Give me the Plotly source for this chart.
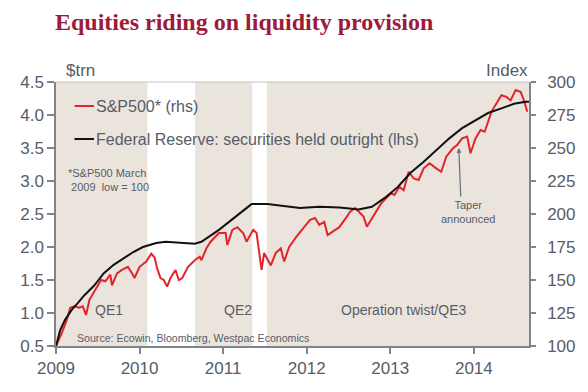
import plotly.graph_objects as go

# ---------------- data ----------------
fed_year = [2009.00, 2009.01, 2009.05, 2009.11, 2009.19, 2009.26, 2009.34, 2009.46,
            2009.57, 2009.69, 2009.81, 2009.92, 2010.04, 2010.20, 2010.31, 2010.51,
            2010.66, 2010.74, 2010.85, 2010.95, 2011.15, 2011.34, 2011.53, 2011.77,
            2011.92, 2012.15, 2012.39, 2012.54, 2012.62, 2012.78, 2012.93, 2013.09,
            2013.24, 2013.40, 2013.55, 2013.71, 2013.86, 2014.02, 2014.17, 2014.33,
            2014.48, 2014.62, 2014.66]
fed_trn = [0.50, 0.55, 0.74, 0.90, 1.05, 1.15, 1.27, 1.42,
           1.60, 1.73, 1.83, 1.92, 2.00, 2.06, 2.08, 2.06,
           2.05, 2.08, 2.17, 2.26, 2.46, 2.65, 2.65, 2.61,
           2.59, 2.61, 2.60, 2.58, 2.57, 2.61, 2.74, 2.91,
           3.12, 3.29, 3.47, 3.65, 3.80, 3.92, 4.03, 4.10,
           4.17, 4.20, 4.20]

spx_year = [2009.00, 2009.07, 2009.13, 2009.17, 2009.22, 2009.28, 2009.32, 2009.36,
            2009.40, 2009.46, 2009.54, 2009.59, 2009.65, 2009.67, 2009.73, 2009.79,
            2009.86, 2009.90, 2009.94, 2010.00, 2010.08, 2010.14, 2010.18, 2010.21,
            2010.25, 2010.29, 2010.33, 2010.37, 2010.43, 2010.47, 2010.51, 2010.58,
            2010.66, 2010.72, 2010.74, 2010.80, 2010.85, 2010.95, 2011.03, 2011.05,
            2011.11, 2011.17, 2011.24, 2011.28, 2011.36, 2011.40, 2011.46, 2011.49,
            2011.57, 2011.63, 2011.69, 2011.73, 2011.79, 2011.88, 2011.96, 2012.04,
            2012.10, 2012.15, 2012.21, 2012.25, 2012.31, 2012.39, 2012.47, 2012.52,
            2012.58, 2012.62, 2012.68, 2012.72, 2012.78, 2012.84, 2012.89, 2012.95,
            2013.01, 2013.05, 2013.11, 2013.16, 2013.22, 2013.28, 2013.34, 2013.40,
            2013.47, 2013.55, 2013.61, 2013.67, 2013.75, 2013.80, 2013.86, 2013.92,
            2013.96, 2014.02, 2014.08, 2014.13, 2014.17, 2014.21, 2014.27, 2014.33,
            2014.39, 2014.44, 2014.50, 2014.56, 2014.60, 2014.64]
spx_index = [100.0, 110.0, 120.0, 129.0, 130.0, 129.0, 130.0, 123.5,
             135.0, 141.0, 150.0, 149.0, 154.0, 146.0, 155.0, 157.6,
             160.0, 156.0, 151.5, 160.0, 164.0, 170.0, 167.0, 159.0,
             151.5, 150.0, 145.0, 151.5, 157.6, 150.0, 151.5, 160.0,
             165.0, 167.6, 165.0, 174.0, 179.0, 185.6, 185.6, 176.5,
             188.0, 190.0, 185.6, 179.0, 188.0, 185.6, 157.6, 170.5,
             161.0, 170.5, 174.0, 164.0, 175.0, 183.0, 189.0, 195.5,
             197.0, 191.7, 194.0, 184.0, 186.6, 190.0, 197.0, 201.7,
             204.5, 201.7, 198.0, 190.4, 197.0, 203.0, 208.0, 212.0,
             215.7, 214.4, 220.7, 218.0, 232.0, 227.0, 225.8, 234.6,
             238.4, 234.6, 232.0, 243.4, 249.8, 252.3, 257.3, 258.6,
             246.0, 257.3, 263.6, 262.3, 269.9, 277.4, 283.7, 290.0,
             288.7, 286.0, 293.9, 292.6, 286.0, 277.4]

# periods of asset purchases (shaded)
qe_start = [2009.00, 2010.665, 2011.523]
qe_end = [2010.094, 2011.348, 2014.66]
qe_labels = ["QE1", "QE2", "Operation twist/QE3"]
qe_label_x = [2009.64, 2011.18, 2013.16]

year_ticks = [2009, 2010, 2011, 2012, 2013, 2014]
lhs_ticks = [0.5, 1.0, 1.5, 2.0, 2.5, 3.0, 3.5, 4.0, 4.5]
rhs_ticks = [100, 125, 150, 175, 200, 225, 250, 275, 300]

taper_year = 2013.82
taper_trn = 3.50

# ---------------- styling ----------------
SANS = "Liberation Sans, Arial, sans-serif"
TXT = "#585c68"
AX = "#80858c"
RED = "#e3242b"
BEIGE = "#eae4dd"

OFF = 8  # browser default body margin
W, H = 588 - OFF, 392 - OFF
ML, MR, MT, MB = 49 - OFF, 53, 82 - OFF, 46
PW, PH = W - ML - MR, H - MT - MB


def px(xp):
    # page pixel x -> paper fraction
    return (xp - OFF - ML) / PW


def py(yp):
    # page pixel y -> paper fraction
    return (H - MB - (yp - OFF)) / PH


fig = go.Figure()
fig.add_trace(go.Scatter(x=spx_year, y=spx_index, mode="lines", yaxis="y",
                         line=dict(color=RED, width=2), name="S&P500* (rhs)",
                         showlegend=False))
fig.add_trace(go.Scatter(x=fed_year, y=fed_trn, mode="lines", yaxis="y2",
                         line=dict(color="#111111", width=2),
                         name="Federal Reserve: securities held outright (lhs)",
                         showlegend=False))

shapes = []
for s, e in zip(qe_start, qe_end):
    shapes.append(dict(type="rect", xref="x", yref="paper", x0=s, x1=e, y0=0, y1=1,
                       fillcolor=BEIGE, line=dict(width=0), layer="below"))
# top frame line
shapes.append(dict(type="line", xref="paper", yref="paper", x0=0, x1=1, y0=1, y1=1,
                   line=dict(color="#c4c4c4", width=1)))
# legend keys
shapes.append(dict(type="line", xref="paper", yref="paper", x0=px(68), x1=px(88),
                   y0=py(106), y1=py(106), line=dict(color=RED, width=2)))
shapes.append(dict(type="line", xref="paper", yref="paper", x0=px(68), x1=px(88),
                   y0=py(139), y1=py(139), line=dict(color="#111111", width=2)))

ann = []
ann.append(dict(text="<b>Equities riding on liquidity provision</b>", xref="paper", yref="paper",
                x=px(47), y=py(22), xanchor="left", yanchor="middle", showarrow=False,
                borderpad=0,
                font=dict(family="Liberation Serif, Times New Roman, serif", size=24, color="#9e1a3a")))
ann.append(dict(text="$trn", xref="paper", yref="paper", x=px(57), y=py(71),
                xanchor="left", yanchor="middle", showarrow=False,
                font=dict(family=SANS, size=17, color=TXT)))
ann.append(dict(text="Index", xref="paper", yref="paper", x=px(536), y=py(70),
                xanchor="right", yanchor="middle", showarrow=False,
                font=dict(family=SANS, size=17, color=TXT)))
ann.append(dict(text="S&P500* (rhs)", xref="paper", yref="paper", x=px(88), y=py(106),
                xanchor="left", yanchor="middle", showarrow=False,
                font=dict(family=SANS, size=16, color=TXT)))
ann.append(dict(text="Federal Reserve: securities held outright (lhs)", xref="paper", yref="paper",
                x=px(88), y=py(139), xanchor="left", yanchor="middle", showarrow=False,
                font=dict(family=SANS, size=16, color=TXT)))
ann.append(dict(text="*S&P500 March<br> 2009  low = 100", xref="paper", yref="paper",
                x=px(59), y=py(180), xanchor="left", yanchor="middle", align="left",
                showarrow=False, font=dict(family=SANS, size=11, color=TXT)))
for lab, lx in zip(qe_labels, qe_label_x):
    ann.append(dict(text=lab, xref="x", yref="paper", x=lx, y=py(310),
                    xanchor="center", yanchor="middle", showarrow=False,
                    font=dict(family=SANS, size=14, color=TXT)))
ann.append(dict(text="Source: Ecowin, Bloomberg, Westpac Economics", xref="paper", yref="paper",
                x=px(69), y=py(338), xanchor="left", yanchor="middle", showarrow=False,
                font=dict(family=SANS, size=10.6, color=TXT)))
ann.append(dict(text="", xref="x", yref="y2", x=taper_year, y=taper_trn, ax=2, ay=50,
                showarrow=True, arrowhead=2, arrowsize=0.8, arrowwidth=1.2, arrowcolor="#6a6e78"))
ann.append(dict(text="Taper<br>announced", xref="paper", yref="paper", x=px(472), y=py(212),
                xanchor="center", yanchor="middle", showarrow=False,
                font=dict(family=SANS, size=11, color=TXT)))

fig.update_layout(
    width=W, height=H, autosize=False,
    margin=dict(l=ML, r=MR, t=MT, b=MB, pad=0),
    paper_bgcolor="white", plot_bgcolor="white",
    showlegend=False,
    shapes=shapes, annotations=ann,
    xaxis=dict(range=[2009, 2014.66], tickmode="array", tickvals=year_ticks,
               ticktext=[str(y) for y in year_ticks], ticks="outside", ticklen=6,
               tickcolor=AX, tickwidth=1.5, showline=True, linecolor=AX, linewidth=1.5,
               showgrid=False, zeroline=False,
               tickfont=dict(family=SANS, size=17, color=TXT)),
    yaxis=dict(range=[100, 300], tickmode="array", tickvals=rhs_ticks, side="right",
               ticks="outside", ticklen=5, tickcolor=AX, tickwidth=1.5,
               showline=True, linecolor=AX, linewidth=1.5, showgrid=False, zeroline=False,
               ticklabelstandoff=8,
               tickfont=dict(family=SANS, size=17, color=TXT)),
    yaxis2=dict(range=[0.5, 4.5], tickmode="array", tickvals=lhs_ticks,
                ticktext=["%.1f" % v for v in lhs_ticks], side="left", overlaying="y",
                ticks="outside", ticklen=7, tickcolor=AX, tickwidth=1.5,
                showline=True, linecolor=AX, linewidth=1.5, showgrid=False, zeroline=False,
                tickfont=dict(family=SANS, size=17, color=TXT)),
)

fig.write_html("out.html")
